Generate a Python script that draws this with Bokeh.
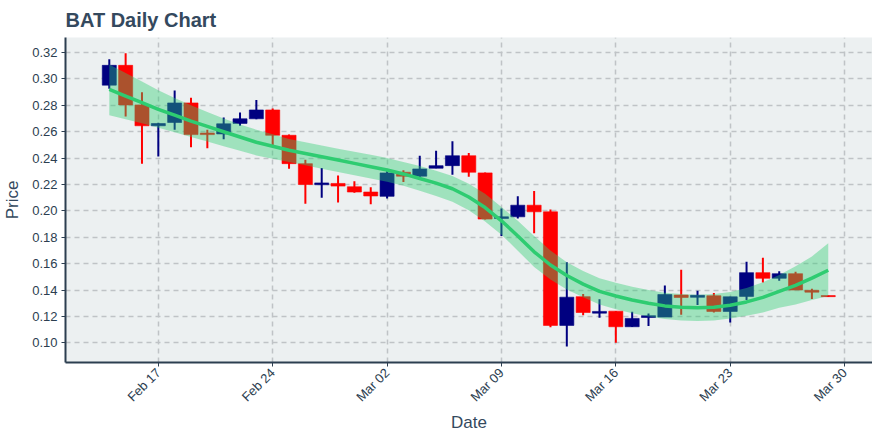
import math
import pandas as pd
from bokeh.plotting import figure
from bokeh.models import ColumnDataSource, Range1d, FixedTicker
from bokeh.embed import file_html
from bokeh.resources import INLINE

# ---- data ----
dates = pd.date_range("2020-02-14", "2020-03-29", freq="D")

opens = [0.2953, 0.3103, 0.2803, 0.2645, 0.2670, 0.2818, 0.2590, 0.2583, 0.2663, 0.2698,
         0.2765, 0.2573, 0.2358, 0.2198, 0.2208, 0.2183, 0.2143, 0.2110, 0.2293, 0.2263,
         0.2323, 0.2343, 0.2418, 0.2288, 0.1942, 0.1955, 0.2043, 0.1993, 0.1132, 0.1350,
         0.1225, 0.1240, 0.1122, 0.1192, 0.1195, 0.1362, 0.1345, 0.1357, 0.1238, 0.1352,
         0.1532, 0.1489, 0.1524, 0.1398, 0.1358]
highs = [0.3150, 0.3195, 0.2900, 0.2668, 0.2913, 0.2858, 0.2615, 0.2708, 0.2745, 0.2840,
         0.2775, 0.2578, 0.2388, 0.2325, 0.2268, 0.2225, 0.2180, 0.2313, 0.2308, 0.2418,
         0.2455, 0.2528, 0.2438, 0.2290, 0.2018, 0.2110, 0.2150, 0.2010, 0.1610, 0.1370,
         0.1330, 0.1242, 0.1235, 0.1222, 0.1435, 0.1554, 0.1395, 0.1377, 0.1350, 0.1615,
         0.1645, 0.1542, 0.1539, 0.1410, 0.1358]
lows = [0.2925, 0.2715, 0.2358, 0.2413, 0.2615, 0.2483, 0.2475, 0.2543, 0.2645, 0.2695,
        0.2495, 0.2320, 0.2055, 0.2100, 0.2063, 0.2138, 0.2050, 0.2093, 0.2218, 0.2238,
        0.2323, 0.2273, 0.2258, 0.1935, 0.1810, 0.1943, 0.1830, 0.1118, 0.0973, 0.1210,
        0.1190, 0.1000, 0.1120, 0.1128, 0.1195, 0.1213, 0.1286, 0.1230, 0.1154, 0.1324,
        0.1458, 0.1471, 0.1400, 0.1332, 0.1348]
closes = [0.3103, 0.2803, 0.2645, 0.2662, 0.2818, 0.2578, 0.2578, 0.2660, 0.2698, 0.2765,
          0.2573, 0.2358, 0.2200, 0.2212, 0.2188, 0.2143, 0.2113, 0.2288, 0.2263, 0.2318,
          0.2343, 0.2418, 0.2293, 0.1938, 0.1955, 0.2043, 0.1993, 0.1132, 0.1346, 0.1230,
          0.1238, 0.1122, 0.1185, 0.1206, 0.1366, 0.1344, 0.1360, 0.1238, 0.1349, 0.1532,
          0.1489, 0.1524, 0.1400, 0.1384, 0.1350]

trend = [0.2920, 0.2870, 0.2820, 0.2770, 0.2725, 0.2680, 0.2640, 0.2600, 0.2560, 0.2520,
         0.2490, 0.2460, 0.2435, 0.2410, 0.2385, 0.2360, 0.2335, 0.2310, 0.2280, 0.2245,
         0.2210, 0.2168, 0.2105, 0.2025, 0.1925, 0.1810, 0.1690, 0.1590, 0.1510, 0.1445,
         0.1390, 0.1355, 0.1325, 0.1300, 0.1280, 0.1270, 0.1265, 0.1270, 0.1285, 0.1310,
         0.1345, 0.1390, 0.1435, 0.1490, 0.1550]
upper = [0.3110, 0.3045, 0.2980, 0.2915, 0.2855, 0.2800, 0.2750, 0.2700, 0.2655, 0.2615,
         0.2580, 0.2545, 0.2520, 0.2495, 0.2470, 0.2448, 0.2425, 0.2400, 0.2370, 0.2340,
         0.2305, 0.2265, 0.2205, 0.2130, 0.2030, 0.1925, 0.1810, 0.1700, 0.1610, 0.1545,
         0.1490, 0.1455, 0.1425, 0.1400, 0.1380, 0.1370, 0.1365, 0.1370, 0.1385, 0.1415,
         0.1460, 0.1515, 0.1580, 0.1655, 0.1755]
lower = [0.2725, 0.2695, 0.2665, 0.2630, 0.2595, 0.2560, 0.2525, 0.2490, 0.2455, 0.2420,
         0.2395, 0.2370, 0.2345, 0.2320, 0.2295, 0.2270, 0.2245, 0.2220, 0.2190, 0.2152,
         0.2113, 0.2070, 0.2005, 0.1920, 0.1820, 0.1698, 0.1575, 0.1480, 0.1405, 0.1345,
         0.1290, 0.1255, 0.1225, 0.1200, 0.1180, 0.1170, 0.1165, 0.1170, 0.1185, 0.1205,
         0.1230, 0.1265, 0.1290, 0.1325, 0.1355]

tick_dates = ["2020-02-17", "2020-02-24", "2020-03-02", "2020-03-09",
              "2020-03-16", "2020-03-23", "2020-03-30"]
tick_labels = ["Feb 17", "Feb 24", "Mar 02", "Mar 09", "Mar 16", "Mar 23", "Mar 30"]

y_ticks = [0.10, 0.12, 0.14, 0.16, 0.18, 0.20, 0.22, 0.24, 0.26, 0.28, 0.30, 0.32]

# ---- build ----
FONT = "Liberation Sans"
TEXT = "#2c3e50"
DAY = 86400000

inc = [c >= o for o, c in zip(opens, closes)]
src = ColumnDataSource(dict(
    x=dates, o=opens, h=highs, l=lows, c=closes,
    top=[max(o, c) for o, c in zip(opens, closes)],
    bot=[min(o, c) for o, c in zip(opens, closes)],
    col=["#000080" if i else "#ff0000" for i in inc],
))
band = ColumnDataSource(dict(x=dates, t=trend, u=upper, lo=lower))

x0 = pd.Timestamp("2020-02-11 07:40")
x1 = pd.Timestamp("2020-03-31 17:00")

p = figure(frame_width=807, frame_height=325, x_axis_type="datetime",
           x_range=Range1d(x0, x1), y_range=Range1d(0.0851, 0.3314),
           output_backend="svg", toolbar_location=None,
           title="BAT Daily Chart",
           min_border_left=57, min_border_top=0, min_border_right=0, min_border_bottom=0)

p.background_fill_color = "#ecf0f1"
p.border_fill_color = "white"
p.outline_line_color = None

p.title.text_font = FONT
p.title.text_font_size = "20px"
p.title.text_font_style = "bold"
p.title.text_color = "#34495e"
p.title.standoff = 13

p.segment(x0="x", y0="h", x1="x", y1="l", color="col", line_width=2, source=src)
p.vbar(x="x", top="top", bottom="bot", width=0.86 * DAY, fill_color="col",
       line_color="col", line_width=0.6, source=src)

p.varea(x="x", y1="lo", y2="u", fill_color="#2ecc71", fill_alpha=0.4, source=band)
p.line(x="x", y="t", line_color="#2ecc71", line_width=3.5, source=band)

tick_ms = [pd.Timestamp(d).value // 10**6 for d in tick_dates]
p.xaxis.ticker = FixedTicker(ticks=tick_ms)
p.xaxis.major_label_overrides = {t: l for t, l in zip(tick_ms, tick_labels)}
p.xaxis.major_label_orientation = math.pi / 4
p.yaxis.ticker = FixedTicker(ticks=y_ticks)
p.yaxis.major_label_overrides = {v: f"{v:.2f}" for v in y_ticks}

for ax in (p.xaxis, p.yaxis):
    ax.axis_line_color = "#2c3e50"
    ax.axis_line_width = 2
    ax.major_tick_line_color = "#2c3e50"
    ax.major_tick_out = 4
    ax.major_tick_in = 0
    ax.minor_tick_line_color = None
    ax.major_label_text_font = FONT
    ax.major_label_text_font_size = "13px"
    ax.major_label_text_color = TEXT
    ax.axis_label_text_font = FONT
    ax.axis_label_text_font_size = "17px"
    ax.axis_label_text_font_style = "normal"
    ax.axis_label_text_color = "#34495e"
    ax.major_label_standoff = 4

p.xaxis.axis_label = "Date"
p.yaxis.axis_label = "Price"
p.yaxis.axis_label_standoff = 7
p.xaxis.axis_label_standoff = 0

for g in (p.xgrid, p.ygrid):
    g.grid_line_color = "#bfc3c6"
    g.grid_line_dash = "5 4"
    g.grid_line_width = 1.5

open("out.html", "w").write(file_html(p, INLINE))
